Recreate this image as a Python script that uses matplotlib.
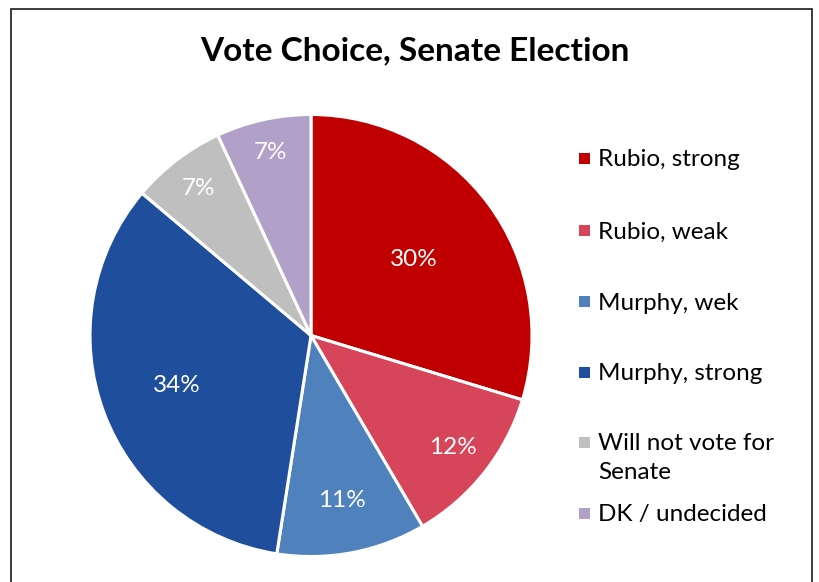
import math

import matplotlib
matplotlib.use("Agg")
import matplotlib.pyplot as plt
from matplotlib.patches import Rectangle


CATEGORIES = [
    "Rubio, strong",
    "Rubio, weak",
    "Murphy, wek",
    "Murphy, strong",
    "Will not vote for\nSenate",
    "DK / undecided",
]
SHARES = [30, 12, 11, 34, 7, 7]
COLORS = ["#C00000", "#D6455A", "#4F81BD", "#1F4E9C", "#BFBFBF", "#B1A0C7"]

# radial position of each percent label (fraction of radius), like Excel best fit
LABEL_DIST = [0.58, 0.82, 0.76, 0.65, 0.84, 0.85]

W, H = 819, 582

plt.rcParams["font.family"] = ["Lato", "DejaVu Sans"]

fig = plt.figure(figsize=(W / 100, H / 100), dpi=100)
fig.patch.set_facecolor("white")

# outer chart frame (bottom edge runs off the picture)
fig.patches.append(
    Rectangle((10.5 / W, -0.05), 801.5 / W, 1.05 - 8.5 / H, transform=fig.transFigure,
              fill=False, edgecolor="#1a1a1a", linewidth=1.2)
)

fig.text(415 / W, 1 - 51 / H, "Vote Choice, Senate Election", ha="center", va="center",
         fontsize=24, fontweight="bold", color="black")

cx, cy, r = 311, 335.5, 221
ax = fig.add_axes([(cx - r) / W, (H - cy - r) / H, 2 * r / W, 2 * r / H])
wedges, _ = ax.pie(SHARES, colors=COLORS, startangle=90, counterclock=False,
                   wedgeprops=dict(edgecolor="white", linewidth=2.2))
ax.set_xlim(-1, 1)
ax.set_ylim(-1, 1)
ax.set_aspect("equal")
ax.axis("off")
for w in wedges:
    w.set_clip_on(False)

for w, share, d in zip(wedges, SHARES, LABEL_DIST):
    mid = math.radians((w.theta1 + w.theta2) / 2)
    ax.text(d * math.cos(mid), d * math.sin(mid), f"{share}%", ha="center", va="center",
            fontsize=17.5, color="white")

# legend drawn by hand to keep Excel spacing
row_y = [158.5, 230.5, 301.5, 372, 442.5, 513.5]
for label, color, y in zip(CATEGORIES, COLORS, row_y):
    fig.patches.append(
        Rectangle((579 / W, 1 - (y + 5.5) / H), 11 / W, 11 / H, transform=fig.transFigure,
                  facecolor=color, edgecolor="none")
    )
    fig.text(598 / W, 1 - (y - 9) / H, label, ha="left", va="top", fontsize=17.5,
             color="black", linespacing=1.45)

fig.savefig("out.png", dpi=100, facecolor="white")
